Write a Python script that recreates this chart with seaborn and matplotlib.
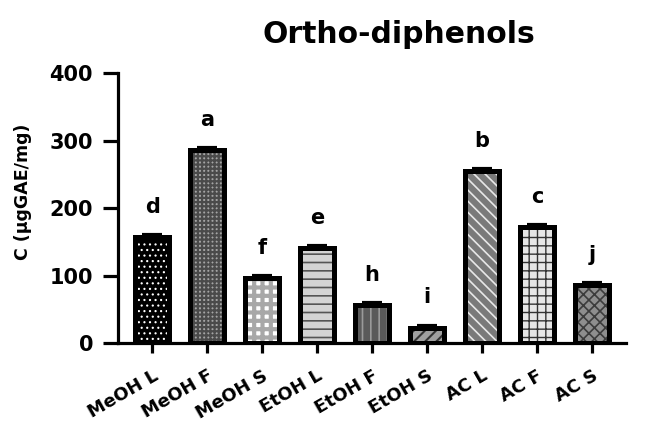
import matplotlib
matplotlib.use("Agg")
import matplotlib.pyplot as plt
import matplotlib.transforms as mtransforms
import seaborn as sns
import numpy as np
import pandas as pd

# Extract / solvent combinations and measured ortho-diphenol content
samples = ["MeOH L", "MeOH F", "MeOH S", "EtOH L", "EtOH F", "EtOH S", "AC L", "AC F", "AC S"]
content = [157, 286, 96, 141, 56, 23, 255, 172, 86]
content_sd = [3, 3, 3, 3, 3, 3, 3, 3, 3]
letters = ["d", "a", "f", "e", "h", "i", "b", "c", "j"]
yticks = [0, 100, 200, 300, 400]

# Fill colour, hatch pattern and hatch colour per bar
fills = ["#000000", "#a4a4a4", "#ffffff", "#d4d4d4", "#5a5a5a", "#a0a0a0", "#7a7a7a", "#e6e6e6", "#8e8e8e"]
hatches = ["...", "++++", "++", "--", "||", "///", "\\\\\\", "++", "xxx"]
hatch_cols = ["#ffffff", "#4a4a4a", "#a8a8a8", "#555555", "#9a9a9a", "#333333", "#e8e8e8", "#333333", "#3c3c3c"]
hatch_lw = [0.8, 1.6, 3.0, 1.2, 1.2, 1.5, 1.2, 1.0, 1.2]

sns.set_style("ticks")
plt.rcParams["font.family"] = ["DejaVu Sans"]
plt.rcParams["font.weight"] = "bold"
plt.rcParams["text.color"] = "black"
plt.rcParams["axes.labelcolor"] = "black"
plt.rcParams["xtick.color"] = "black"
plt.rcParams["ytick.color"] = "black"
plt.rcParams["axes.edgecolor"] = "black"

df = pd.DataFrame({"sample": samples, "content": content})

fig = plt.figure(figsize=(6.72, 4.23), dpi=100)
ax = fig.add_axes([0.1756, 0.189, 0.756, 0.638])

width = 0.63
# Patterned fills
sns.barplot(data=df, x="sample", y="content", order=samples, width=width,
            errorbar=None, ax=ax, linewidth=0, zorder=2)
for p, fc, h, hc, hl in zip(ax.patches, fills, hatches, hatch_cols, hatch_lw):
    p.set_facecolor(fc)
    p.set_hatch(h)
    p.set_edgecolor(hc)
    p.set_linewidth(0)
    if hasattr(p, "set_hatch_linewidth"):
        p.set_hatch_linewidth(hl)
n_fill = len(ax.patches)

# Black outlines on top of the fills
sns.barplot(data=df, x="sample", y="content", order=samples, width=width,
            errorbar=None, ax=ax, fill=False, color="black", linewidth=3.6, zorder=3)
for p in ax.patches[n_fill:]:
    p.set_facecolor("none")
    p.set_edgecolor("black")
    p.set_linewidth(3.6)
    p.set_hatch(None)

x = np.arange(len(samples))
ax.errorbar(x, content, yerr=[np.zeros(len(content)), content_sd], fmt="none",
            ecolor="black", elinewidth=2.5, capsize=7, capthick=3, zorder=4)

for xi, v, e, lab in zip(x, content, content_sd, letters):
    ax.annotate(lab, (xi, v + e), xytext=(0, 13), textcoords="offset points",
                ha="center", va="bottom", fontsize=15, fontweight="bold", color="black")

ax.set_xlim(-0.62, len(samples) - 1 + 0.62)
ax.set_ylim(0, 400)
ax.set_yticks(yticks)
ax.set_yticklabels([str(t) for t in yticks], fontsize=15, fontweight="bold")
ax.set_xticks(x)
ax.set_xticklabels(samples, rotation=30, ha="right", va="top", rotation_mode="anchor",
                   fontsize=13, fontweight="bold")
offset = mtransforms.ScaledTranslation(6 / 100, 0, fig.dpi_scale_trans)
for t in ax.get_xticklabels():
    t.set_transform(t.get_transform() + offset)

ax.set_xlabel("")
ax.set_ylabel("C (µgGAE/mg)", fontsize=12.5, fontweight="bold")
ax.yaxis.set_label_coords(-0.17, 0.56)
ax.set_title("Ortho-diphenols", fontsize=21.5, fontweight="bold", pad=22, x=0.553)

for side in ["top", "right"]:
    ax.spines[side].set_visible(False)
for side in ["left", "bottom"]:
    ax.spines[side].set_linewidth(2.3)
ax.tick_params(axis="y", length=11, width=2.3, pad=7)
ax.tick_params(axis="x", length=7, width=2.3, pad=10)

fig.savefig("out.png", dpi=100)
